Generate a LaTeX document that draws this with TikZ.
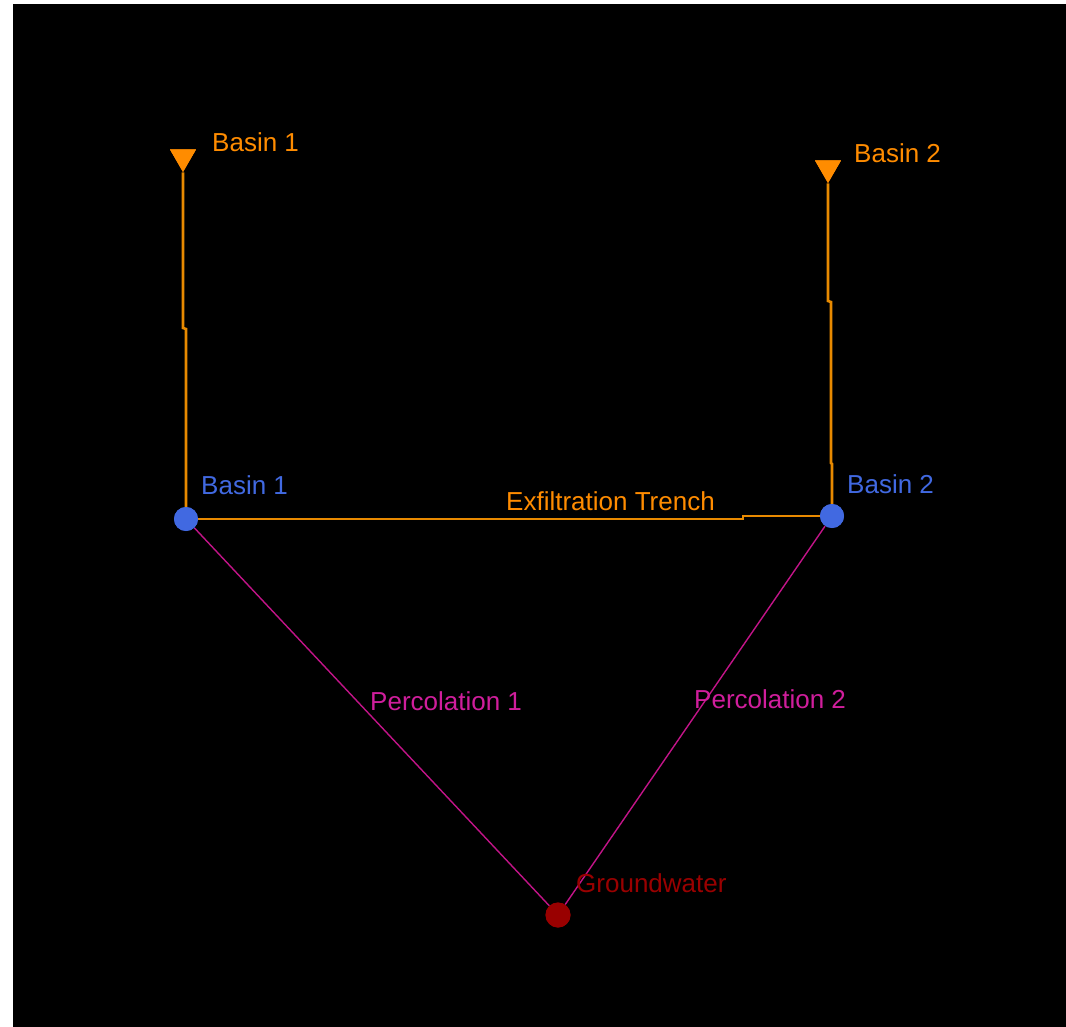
\documentclass[tikz,border=0pt]{standalone}
\usepackage{fontspec}
\setmainfont{Liberation Sans}
\usetikzlibrary{shapes.geometric}
\definecolor{swmmorange}{HTML}{FF8C00}
\definecolor{linkorange}{HTML}{E88A00}
\definecolor{nodeblue}{HTML}{4169E1}
\definecolor{linkpink}{HTML}{C21488}
\definecolor{textpink}{HTML}{D01E9C}
\definecolor{gwred}{HTML}{990000}
\tikzset{
  catchment/.style={regular polygon, regular polygon sides=3, shape border rotate=180,
    fill=swmmorange, draw=none, minimum size=30pt, inner sep=0pt},
  junction/.style={circle, fill=nodeblue, minimum size=24pt, inner sep=0pt},
  outfall/.style={circle, fill=gwred, minimum size=25pt, inner sep=0pt},
  orangelink/.style={draw=linkorange, line width=2.6pt},
  pinklink/.style={draw=linkpink, line width=1.4pt},
  lbl/.style={anchor=base west, inner sep=0pt, font=\fontsize{26}{30}\selectfont},
}
\begin{document}
\begin{tikzpicture}[x=1pt, y=-1pt]
  % canvas
  \fill[white] (0,0) rectangle (1066,1027);
  \fill[black] (13,4) rectangle (1066,1027);
  \useasboundingbox (0,0) rectangle (1066,1027);

  % subcatchments, junctions and outfall
  \node[catchment] (s1) at (183,157) {};
  \node[catchment] (s2) at (828,168) {};
  \node[junction] (j1) at (186,519) {};
  \node[junction] (j2) at (832,516) {};
  \node[outfall] (gw) at (558,915) {};

  % links
  \path[orangelink] (s1.south) -- (183,328) -- (186,329) -- (j1.north);
  \path[orangelink] (s2.south) -- (828,301) -- (831,302) -- (831,463) -- (832,464) -- (j2.north);
  \path[orangelink] (j1.east) -- (743,519) -- (743,516) -- (j2.west);
  \path[pinklink] (j1) -- (gw);
  \path[pinklink] (j2) -- (gw);

  % symbols again, on top of the links
  \node[catchment] at (s1) {};
  \node[catchment] at (s2) {};
  \node[junction] at (j1) {};
  \node[junction] at (j2) {};
  \node[outfall] at (gw) {};

  % labels
  \node[lbl, text=swmmorange] (ls1) at (212,152) {Basin 1};
  \node[lbl, text=swmmorange] (ls2) at (854,163) {Basin 2};
  \node[lbl, text=nodeblue] (lj1) at (201,494) {Basin 1};
  \node[lbl, text=nodeblue] (lj2) at (847,493) {Basin 2};
  \node[lbl, text=swmmorange] (lex) at (506,510) {Exfiltration Trench};
  \node[lbl, text=textpink] (lp1) at (370,710) {Percolation 1};
  \node[lbl, text=textpink] (lp2) at (694,708) {Percolation 2};
  \node[lbl, text=gwred] (lgw) at (576,892) {Groundwater};
\end{tikzpicture}
\end{document}
